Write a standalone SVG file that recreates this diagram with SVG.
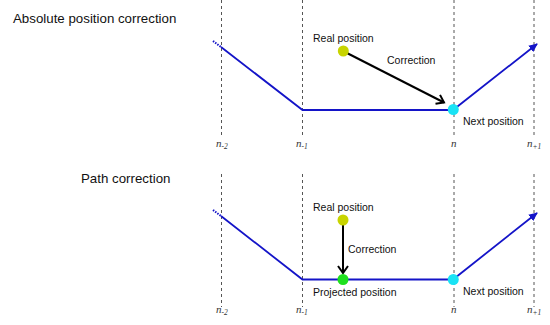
<svg xmlns="http://www.w3.org/2000/svg" width="550" height="325" viewBox="0 0 550 325">
<style>
.title{font-family:"Liberation Sans",Arial,sans-serif;font-size:13.3px;fill:#111}
.lbl{font-family:"Liberation Sans",Arial,sans-serif;font-size:10.5px;fill:#111}
.idx{font-family:"Liberation Serif","Times New Roman",serif;font-style:italic;font-size:11px;fill:#333}
.sub{font-size:7.5px}
.grid{stroke:#555;stroke-width:1;stroke-dasharray:3,3;fill:none}
.path{stroke:#1414c8;stroke-width:1.8;fill:none}
.dots{stroke:#1414c8;stroke-width:2;stroke-dasharray:1.5,1.2;fill:none}
.corr{stroke:#000;stroke-width:2;fill:none}
</style>
<defs>
<marker id="blueHead" markerWidth="10" markerHeight="10" refX="8" refY="5" orient="auto" markerUnits="userSpaceOnUse">
<path d="M0,1 L9,5 L0,9 Z" fill="#1414c8"/>
</marker>
<marker id="openHead" markerWidth="12" markerHeight="12" refX="9" refY="6" orient="auto" markerUnits="userSpaceOnUse">
<path d="M2,1 L9,6 L2,11" fill="none" stroke="#000" stroke-width="2"/>
</marker>
</defs>
<rect width="550" height="325" fill="#fff"/>
<text class="title" x="13" y="23">Absolute position correction</text>
<text class="title" x="81" y="183">Path correction</text>
<g id="grid">
<line class="grid" x1="221.5" y1="0" x2="221.5" y2="135"/>
<line class="grid" x1="302.5" y1="0" x2="302.5" y2="135"/>
<line class="grid" x1="454" y1="0" x2="454" y2="135"/>
<line class="grid" x1="534" y1="0" x2="534" y2="135"/>
<line class="grid" x1="221.5" y1="174" x2="221.5" y2="307"/>
<line class="grid" x1="302.5" y1="174" x2="302.5" y2="307"/>
<line class="grid" x1="454" y1="174" x2="454" y2="307"/>
<line class="grid" x1="534" y1="174" x2="534" y2="307"/>
</g>
<g id="labels-top">
<text class="idx" x="216" y="147">n<tspan class="sub" dy="2">-2</tspan></text>
<text class="idx" x="296" y="147">n<tspan class="sub" dy="2">-1</tspan></text>
<text class="idx" x="451" y="147">n</text>
<text class="idx" x="527" y="147">n<tspan class="sub" dy="2">+1</tspan></text>
</g>
<g id="labels-bottom">
<text class="idx" x="216" y="313">n<tspan class="sub" dy="2">-2</tspan></text>
<text class="idx" x="296" y="313">n<tspan class="sub" dy="2">-1</tspan></text>
<text class="idx" x="451" y="313">n</text>
<text class="idx" x="527" y="313">n<tspan class="sub" dy="2">+1</tspan></text>
</g>
<g id="connectors">
<line class="dots" x1="213" y1="41" x2="221" y2="47"/>
<polyline class="path" points="221,47 302.5,110 453,110 537,44" marker-end="url(#blueHead)"/>
<line class="dots" x1="213" y1="210" x2="221" y2="216"/>
<polyline class="path" points="221,216 302.5,279.5 453,279.5 537,213" marker-end="url(#blueHead)"/>
<line class="corr" x1="343" y1="51" x2="444" y2="102.5" marker-end="url(#openHead)"/>
<line class="corr" x1="343" y1="220" x2="343" y2="273" marker-end="url(#openHead)"/>
</g>
<g id="real-top">
<circle cx="343.3" cy="51" r="5.5" fill="#c8d400"/>
<text class="lbl" x="313" y="42">Real position</text>
</g>
<text class="lbl" x="387" y="64">Correction</text>
<g id="next-top">
<circle cx="453.3" cy="109.5" r="5.5" fill="#19e3f5"/>
<text class="lbl" x="463" y="125">Next position</text>
</g>
<g id="real-bottom">
<circle cx="343" cy="220" r="5.5" fill="#c8d400"/>
<text class="lbl" x="313" y="211">Real position</text>
</g>
<text class="lbl" x="348" y="253">Correction</text>
<g id="projected-bottom">
<circle cx="343" cy="279.5" r="5.5" fill="#1ee01e"/>
<text class="lbl" x="313" y="296">Projected position</text>
</g>
<g id="next-bottom">
<circle cx="453.3" cy="279.5" r="5.5" fill="#19e3f5"/>
<text class="lbl" x="463" y="295">Next position</text>
</g>
</svg>
